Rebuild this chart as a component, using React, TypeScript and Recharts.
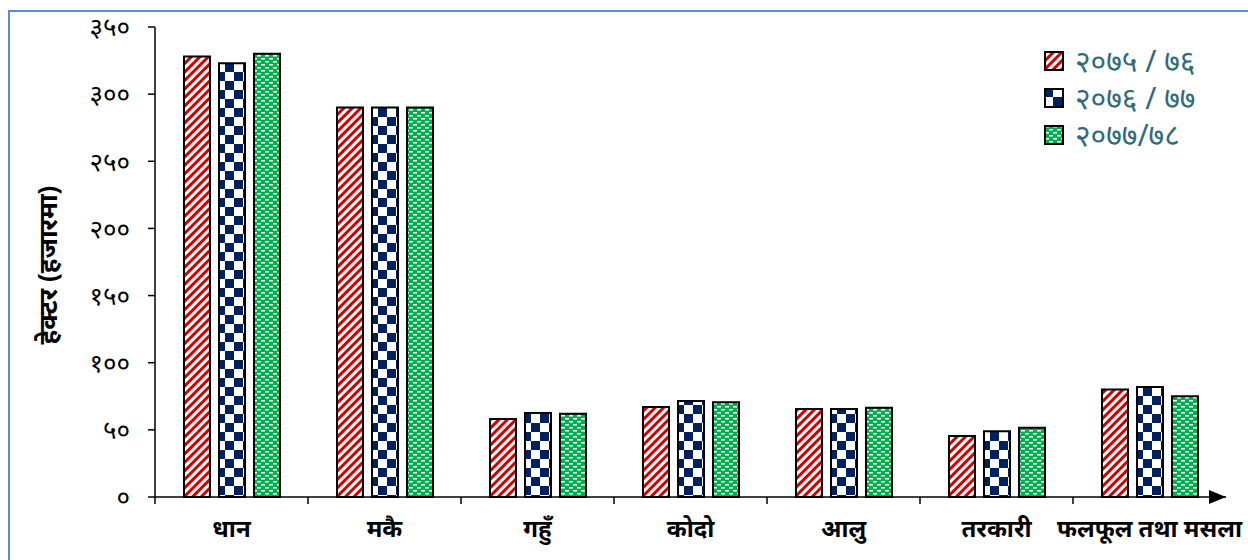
import { BarChart, Bar, XAxis, YAxis } from 'recharts';

const categories = ['धान', 'मकै', 'गहुँ', 'कोदो', 'आलु', 'तरकारी', 'फलफूल तथा मसला'];
const seriesNames = ['२०७५ / ७६', '२०७६ / ७७', '२०७७/७८'];
const area2075 = [328, 290, 58, 67, 65.5, 45.5, 80];
const area2076 = [323, 290, 62.5, 71.5, 65.5, 49, 82];
const area2077 = [330, 290, 62, 70.5, 66.5, 51.5, 75];
const yTicks = [0, 50, 100, 150, 200, 250, 300, 350];

const patternIds = ['stripeRed', 'checkNavy', 'dashGreen'];
const keys = ['y2075', 'y2076', 'y2077'];

const data = categories.map((name, i) => ({
    name,
    y2075: area2075[i],
    y2076: area2076[i],
    y2077: area2077[i],
}));

const devaDigits = '०१२३४५६७८९';
const toDeva = (n: number) => String(n).replace(/[0-9]/g, (d) => devaDigits[Number(d)]);

const Patterns = () => (
    <defs>
        <pattern id="stripeRed" patternUnits="userSpaceOnUse" width="6" height="6" patternTransform="rotate(45)">
            <rect width="6" height="6" fill="#fff" />
            <rect width="3" height="6" fill="#d00000" />
        </pattern>
        <pattern id="checkNavy" patternUnits="userSpaceOnUse" width="18" height="18">
            <rect width="18" height="18" fill="#fff" />
            <rect width="9" height="9" fill="#002060" />
            <rect x="9" y="9" width="9" height="9" fill="#002060" />
        </pattern>
        <pattern id="dashGreen" patternUnits="userSpaceOnUse" width="8" height="6">
            <rect width="8" height="6" fill="#00b050" />
            <rect x="1" y="1" width="4" height="1.5" fill="#fff" />
            <rect x="5" y="4" width="3" height="1.5" fill="#fff" />
            <rect x="0" y="4" width="1" height="1.5" fill="#fff" />
        </pattern>
    </defs>
);

// category label + tick mark at the left edge of each band, arrow after the last one
const XTick = (props: any) => {
    const { x, y, payload, index } = props;
    const half = payload.offset ?? 0;
    const last = index === categories.length - 1;
    return (
        <g>
            <line x1={x - half} y1={y} x2={x - half} y2={y + 7} stroke="#000" strokeWidth={1.5} />
            {last && <path d={`M${x + half - 17},${y - 7} L${x + half},${y} L${x + half - 17},${y + 7} Z`} fill="#000" />}
            <text x={x} y={y + 40} textAnchor="middle" fontSize={24} fontWeight="bold" fill="#000">
                {payload.value}
            </text>
        </g>
    );
};

const YLabel = (props: any) => {
    const { viewBox } = props;
    const cx = viewBox.x - 48;
    const cy = viewBox.y + viewBox.height / 2 + 3;
    return (
        <text x={cx} y={cy} transform={`rotate(-90, ${cx}, ${cy})`} textAnchor="middle" dominantBaseline="central"
            fontSize={26} fontWeight="bold" fill="#000">
            हेक्टर (हजारमा)
        </text>
    );
};

export default function App() {
    return (
        <div style={{ position: 'absolute', left: 0, top: 0, width: 1248, height: 560, background: '#fff', fontFamily: '"Noto Sans", sans-serif' }}>
            <div style={{ position: 'absolute', left: 8, top: 10, width: 1240, height: 550, borderLeft: '2px solid #5b8bd0', borderTop: '2px solid #5b8bd0', boxSizing: 'border-box' }} />
            <div style={{ position: 'absolute', left: 0, top: 0 }}>
                <BarChart width={1248} height={560} data={data} margin={{ top: 27, right: 22, bottom: 0, left: 95 }}
                    barSize={26} barGap={9}>
                    <Patterns />
                    <XAxis dataKey="name" axisLine={{ stroke: '#000', strokeWidth: 1.5 }} tickLine={false} tickSize={0}
                        tickMargin={0} interval={0} height={63} tick={<XTick />} />
                    <YAxis domain={[0, 350]} ticks={yTicks} width={60} tickSize={7} tickMargin={18}
                        axisLine={{ stroke: '#000', strokeWidth: 1.5 }} tickLine={{ stroke: '#000', strokeWidth: 1.5 }}
                        tickFormatter={toDeva} tick={{ fill: '#000', fontSize: 26 }} label={<YLabel />} />
                    {keys.map((k, i) => (
                        <Bar key={k} dataKey={k} name={seriesNames[i]} fill={`url(#${patternIds[i]})`}
                            stroke="#000" strokeWidth={2} isAnimationActive={false} />
                    ))}
                </BarChart>
            </div>
            <div style={{ position: 'absolute', left: 1044, top: 42, color: '#2e6b7b', fontSize: 30 }}>
                {seriesNames.map((n, i) => (
                    <div key={n} style={{ display: 'flex', alignItems: 'center', height: 37 }}>
                        <svg width={20} height={20} style={{ marginRight: 11 }}>
                            <rect x={1} y={1} width={18} height={18} fill={`url(#${patternIds[i]})`} stroke="#000" strokeWidth={2} />
                        </svg>
                        <span style={{ whiteSpace: 'pre' }}>{n}</span>
                    </div>
                ))}
            </div>
        </div>
    );
}
